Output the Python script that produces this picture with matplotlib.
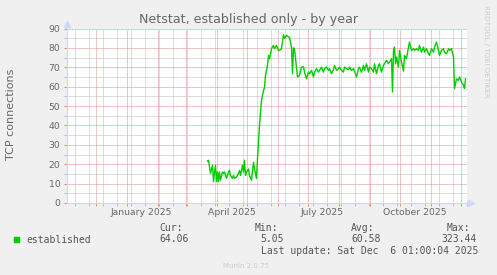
import numpy as np
import matplotlib
matplotlib.use("Agg")
import matplotlib.pyplot as plt
import matplotlib.dates as mdates
from matplotlib.ticker import MultipleLocator, FixedLocator, NullFormatter
from matplotlib.patches import Rectangle

# daily values, day = days since 2025-01-01
days = [81, 82, 83, 84, 86, 87, 88, 89, 90, 91, 92, 93, 94, 96, 97, 98, 100, 102, 103, 104,
        106, 107, 108, 110, 112, 113, 114, 116, 117, 118, 119, 120, 122, 123, 125, 127, 128, 130, 131, 133,
        134, 135, 137, 138, 139, 141, 142, 143, 145, 147, 148, 150, 152, 153, 155, 157, 158, 160, 162, 163,
        165, 166, 167, 168, 170, 171, 173, 175, 177, 178, 180, 182, 183, 185, 187, 188, 190, 192, 193, 195,
        197, 198, 200, 202, 203, 205, 207, 208, 210, 212, 213, 215, 217, 218, 220, 222, 223, 225, 227, 228,
        230, 232, 233, 235, 237, 238, 240, 242, 243, 245, 247, 248, 250, 252, 253, 255, 257, 258, 260, 262,
        263, 265, 266, 267, 268, 269, 270, 272, 273, 275, 277, 278, 280, 282, 283, 285, 287, 288, 290, 292,
        293, 295, 297, 298, 300, 302, 303, 305, 307, 308, 310, 312, 313, 315, 317, 318, 320, 322, 323, 325,
        327, 328, 330, 332, 333, 335, 337, 338, 339]
conns = [21.6, 22.0, 18.7, 15.3, 19.5, 11.0, 16.0, 19.5, 11.0, 16.0, 11.0, 16.0, 11.8, 16.0, 15.3, 16.0, 12.7, 16.0, 16.8, 14.2,
         12.7, 14.2, 12.7, 13.4, 15.3, 16.8, 14.2, 19.5, 16.0, 22.0, 14.2, 16.0, 17.5, 14.2, 11.8, 21.0, 17.5, 12.7, 23.0, 40.0,
         47.0, 53.0, 58.0, 59.5, 65.8, 71.0, 76.0, 74.4, 79.6, 81.3, 79.6, 81.3, 78.7, 78.7, 79.6, 86.8, 84.9, 86.5, 85.7, 85.5,
         80.4, 66.7, 80.0, 79.5, 70.0, 65.0, 65.8, 70.0, 70.3, 67.5, 64.0, 67.5, 66.7, 68.4, 65.0, 67.5, 69.3, 67.5, 68.4, 70.1,
         67.5, 69.3, 70.1, 68.4, 69.3, 66.7, 68.8, 71.0, 68.4, 69.3, 70.1, 68.4, 67.5, 70.1, 69.3, 68.8, 70.1, 68.4, 69.3, 68.0,
         65.0, 69.3, 70.1, 67.5, 71.0, 68.4, 71.8, 67.5, 70.1, 69.3, 67.5, 71.8, 66.7, 71.0, 71.8, 67.5, 71.0, 71.8, 73.6, 71.8,
         72.7, 74.4, 57.3, 78.7, 80.4, 71.8, 75.3, 70.1, 78.7, 72.7, 68.0, 76.1, 74.4, 80.4, 83.0, 78.7, 79.6, 78.7, 79.6, 78.7,
         81.3, 77.8, 80.4, 77.8, 79.6, 77.0, 76.1, 79.6, 77.8, 80.4, 83.0, 78.7, 76.1, 78.7, 79.6, 77.8, 77.0, 79.6, 78.7, 79.6,
         75.3, 59.0, 64.0, 63.3, 65.0, 62.4, 60.7, 59.0, 64.06]

month_labels = ["January 2025", "April 2025", "July 2025", "October 2025"]
label_dates = ["2025-01-16", "2025-04-16", "2025-07-16", "2025-10-16"]

stat_cur, stat_min, stat_avg, stat_max = 64.06, 5.05, 60.58, 323.44
last_update = "Last update: Sat Dec  6 01:00:04 2025"

W, H = 497, 275
FONT = "#666666"
AXIS = "#CFD6F8"
GREEN = "#00CC00"

def fx(x):
    return x / W

def fy(y):
    return 1 - y / H

fig = plt.figure(figsize=(W / 100, H / 100), dpi=100, facecolor="#F0F0F0")
ax = fig.add_axes([fx(66.5), fy(203), 401 / W, 174.5 / H])
ax.set_facecolor("white")

dates = np.datetime64("2025-01-01") + np.array(days).astype("timedelta64[D]")
ax.plot(dates, conns, color=GREEN, lw=1.0, zorder=3)

ax.set_xlim(np.datetime64("2024-11-02"), np.datetime64("2025-12-08"))
ax.set_ylim(0, 90)

# grid: red dotted for months / tens, grey dotted for 2-week / fives
ax.xaxis.set_major_locator(mdates.MonthLocator())
sundays = np.arange(np.datetime64("2024-11-10"), np.datetime64("2025-12-08"), np.timedelta64(14, "D"))
ax.xaxis.set_minor_locator(FixedLocator(mdates.date2num(sundays)))
ax.xaxis.set_major_formatter(NullFormatter())
ax.yaxis.set_major_locator(MultipleLocator(10))
ax.yaxis.set_minor_locator(MultipleLocator(5))
ax.set_axisbelow(True)
ax.grid(which="minor", color="#BDBDBD", linestyle=(0, (1, 1)), lw=0.72)
ax.grid(which="major", color="#E08C8C", linestyle=(0, (1, 1)), lw=0.72)
ax.tick_params(which="major", length=2, width=0.72, color="#E08C8C")
ax.tick_params(which="minor", length=2, width=0.72, color="#BDBDBD")
ax.tick_params(axis="y", labelsize=6.7, labelcolor=FONT, pad=2.5)

for s in ["top", "right", "left", "bottom"]:
    ax.spines[s].set_visible(False)
# axis lines with arrows, munin style
ax.plot([0, 0], [0, 1.027], color=AXIS, lw=0.8, transform=ax.transAxes, clip_on=False, zorder=4)
ax.plot([0, 1.009], [0, 0], color=AXIS, lw=0.8, transform=ax.transAxes, clip_on=False, zorder=4)
ax.plot([0], [1.027], marker="^", ms=4.3, color=AXIS, transform=ax.transAxes, clip_on=False, zorder=4)
ax.plot([1.0095], [0], marker=">", ms=4.3, color=AXIS, transform=ax.transAxes, clip_on=False, zorder=4)

for lab, d in zip(month_labels, label_dates):
    ax.text(np.datetime64(d), -0.0688, lab, transform=ax.get_xaxis_transform(),
            ha="center", va="baseline", fontsize=6.7, color=FONT)

fig.text(0.5, fy(23.3), "Netstat, established only - by year", ha="center", va="baseline",
         fontsize=9.1, color=FONT)
fig.text(fx(11), fy(114), "TCP connections", rotation=90, ha="center", va="center",
         fontsize=8, color=FONT)
fig.text(fx(486), fy(5), "RRDTOOL / TOBI OETIKER", rotation=270, ha="center", va="top",
         fontsize=5.2, color="#CCCCCC")

# legend and stats block
mono = dict(family="DejaVu Sans Mono", fontsize=7, color="#555555", va="baseline")
fig.patches.append(Rectangle((fx(14), fy(242)), 5.3 / W, 5.3 / H, color=GREEN, transform=fig.transFigure))
fig.text(fx(26), fy(242.7), "established", **mono)
fig.text(fx(159), fy(231), "Cur:", **mono)
fig.text(fx(159), fy(242.3), "%.2f" % stat_cur, **mono)
fig.text(fx(255), fy(231), "Min:", **mono)
fig.text(fx(260.7), fy(242.3), "%.2f" % stat_min, **mono)
fig.text(fx(351), fy(231), "Avg:", **mono)
fig.text(fx(351), fy(242.3), "%.2f" % stat_avg, **mono)
fig.text(fx(446.7), fy(231), "Max:", **mono)
fig.text(fx(441.7), fy(242.3), "%.2f" % stat_max, **mono)
fig.text(fx(261), fy(253.7), last_update, **mono)
fig.text(fx(223), fy(268), "Munin 2.0.75", fontsize=5, color="#CCCCCC", va="baseline")

fig.savefig("out.png", dpi=100, facecolor=fig.get_facecolor())
